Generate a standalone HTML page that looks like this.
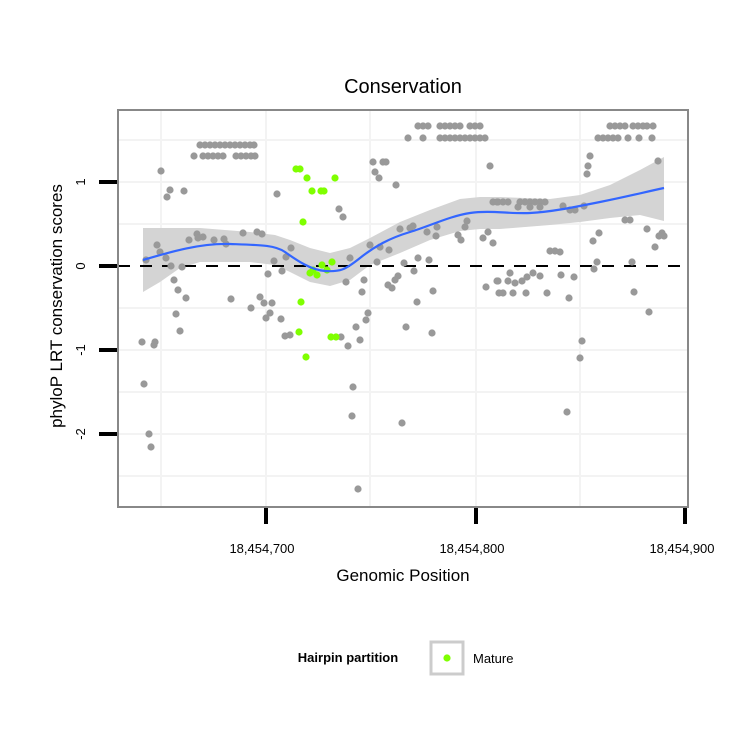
<!DOCTYPE html>
<html><head><meta charset="utf-8"><style>body{margin:0;background:#fff}svg{display:block}text{font-family:"Liberation Sans",sans-serif}</style></head><body>
<svg width="750" height="750" viewBox="0 0 750 750" xmlns="http://www.w3.org/2000/svg">
<rect width="750" height="750" fill="#fff"/>
<g stroke="#f3f3f3" stroke-width="2">
<line x1="118" y1="140" x2="688" y2="140"/><line x1="118" y1="224" x2="688" y2="224"/><line x1="118" y1="308" x2="688" y2="308"/><line x1="118" y1="392" x2="688" y2="392"/><line x1="118" y1="476" x2="688" y2="476"/>
<line x1="118" y1="182" x2="688" y2="182"/><line x1="118" y1="350" x2="688" y2="350"/><line x1="118" y1="434" x2="688" y2="434"/>
<line x1="161" y1="110" x2="161" y2="507"/><line x1="370" y1="110" x2="370" y2="507"/><line x1="580" y1="110" x2="580" y2="507"/>
<line x1="266" y1="110" x2="266" y2="507"/><line x1="476" y1="110" x2="476" y2="507"/>
</g>
<path d="M143,228 L160,228 L200,228 L250,232 L275,235 L290,240 L310,248 L330,253 L350,248 L370,238 L400,222 L430,210 L460,199 L480,197 L500,197 L550,199 L580,195 L610,185 L640,170 L664,157 L664,221 L640,215 L610,218 L580,222 L550,225 L500,229 L480,229 L460,231 L430,240 L400,253 L370,265 L350,280 L330,286 L310,282 L290,272 L275,265 L250,262 L200,262 L180,268 L160,282 L143,292 Z" fill="#d4d4d4"/>
<line x1="118" y1="266" x2="688" y2="266" stroke="#000" stroke-width="2" stroke-dasharray="12,10"/>
<g fill="#999">
<circle cx="161" cy="171" r="3.6"/><circle cx="170" cy="190" r="3.6"/><circle cx="167" cy="197" r="3.6"/><circle cx="184" cy="191" r="3.6"/>
<circle cx="200" cy="145" r="3.6"/><circle cx="205" cy="145" r="3.6"/><circle cx="210" cy="145" r="3.6"/><circle cx="215" cy="145" r="3.6"/><circle cx="220" cy="145" r="3.6"/><circle cx="225" cy="145" r="3.6"/><circle cx="230" cy="145" r="3.6"/><circle cx="235" cy="145" r="3.6"/><circle cx="240" cy="145" r="3.6"/><circle cx="245" cy="145" r="3.6"/><circle cx="250" cy="145" r="3.6"/><circle cx="254" cy="145" r="3.6"/>
<circle cx="194" cy="156" r="3.6"/><circle cx="203" cy="156" r="3.6"/><circle cx="208" cy="156" r="3.6"/><circle cx="213" cy="156" r="3.6"/><circle cx="218" cy="156" r="3.6"/><circle cx="223" cy="156" r="3.6"/><circle cx="236" cy="156" r="3.6"/><circle cx="241" cy="156" r="3.6"/><circle cx="246" cy="156" r="3.6"/><circle cx="251" cy="156" r="3.6"/><circle cx="255" cy="156" r="3.6"/>
<circle cx="277" cy="194" r="3.6"/><circle cx="157" cy="245" r="3.6"/><circle cx="160" cy="252" r="3.6"/><circle cx="166" cy="258" r="3.6"/><circle cx="146" cy="260" r="3.6"/><circle cx="171" cy="266" r="3.6"/><circle cx="182" cy="267" r="3.6"/>
<circle cx="174" cy="280" r="3.6"/><circle cx="178" cy="290" r="3.6"/><circle cx="186" cy="298" r="3.6"/><circle cx="176" cy="314" r="3.6"/><circle cx="180" cy="331" r="3.6"/>
<circle cx="142" cy="342" r="3.6"/><circle cx="154" cy="345" r="3.6"/><circle cx="155" cy="342" r="3.6"/><circle cx="144" cy="384" r="3.6"/><circle cx="149" cy="434" r="3.6"/><circle cx="151" cy="447" r="3.6"/>
<circle cx="189" cy="240" r="3.6"/><circle cx="197" cy="234" r="3.6"/><circle cx="198" cy="238" r="3.6"/><circle cx="203" cy="237" r="3.6"/><circle cx="214" cy="240" r="3.6"/><circle cx="224" cy="239" r="3.6"/><circle cx="226" cy="244" r="3.6"/><circle cx="243" cy="233" r="3.6"/><circle cx="257" cy="232" r="3.6"/><circle cx="262" cy="234" r="3.6"/>
<circle cx="274" cy="261" r="3.6"/><circle cx="268" cy="274" r="3.6"/><circle cx="282" cy="271" r="3.6"/><circle cx="286" cy="257" r="3.6"/><circle cx="291" cy="248" r="3.6"/>
<circle cx="231" cy="299" r="3.6"/><circle cx="260" cy="297" r="3.6"/><circle cx="264" cy="303" r="3.6"/><circle cx="272" cy="303" r="3.6"/><circle cx="251" cy="308" r="3.6"/><circle cx="270" cy="313" r="3.6"/><circle cx="266" cy="318" r="3.6"/><circle cx="281" cy="319" r="3.6"/><circle cx="285" cy="336" r="3.6"/><circle cx="290" cy="335" r="3.6"/>
<circle cx="418" cy="126" r="3.6"/><circle cx="423" cy="126" r="3.6"/><circle cx="428" cy="126" r="3.6"/><circle cx="440" cy="126" r="3.6"/><circle cx="445" cy="126" r="3.6"/><circle cx="450" cy="126" r="3.6"/><circle cx="455" cy="126" r="3.6"/><circle cx="460" cy="126" r="3.6"/><circle cx="470" cy="126" r="3.6"/><circle cx="475" cy="126" r="3.6"/><circle cx="480" cy="126" r="3.6"/>
<circle cx="408" cy="138" r="3.6"/><circle cx="423" cy="138" r="3.6"/><circle cx="440" cy="138" r="3.6"/><circle cx="445" cy="138" r="3.6"/><circle cx="450" cy="138" r="3.6"/><circle cx="455" cy="138" r="3.6"/><circle cx="460" cy="138" r="3.6"/><circle cx="465" cy="138" r="3.6"/><circle cx="470" cy="138" r="3.6"/><circle cx="475" cy="138" r="3.6"/><circle cx="480" cy="138" r="3.6"/><circle cx="485" cy="138" r="3.6"/>
<circle cx="373" cy="162" r="3.6"/><circle cx="383" cy="162" r="3.6"/><circle cx="386" cy="162" r="3.6"/><circle cx="375" cy="172" r="3.6"/><circle cx="379" cy="178" r="3.6"/><circle cx="396" cy="185" r="3.6"/><circle cx="490" cy="166" r="3.6"/>
<circle cx="339" cy="209" r="3.6"/><circle cx="343" cy="217" r="3.6"/>
<circle cx="400" cy="229" r="3.6"/><circle cx="410" cy="228" r="3.6"/><circle cx="413" cy="226" r="3.6"/><circle cx="427" cy="232" r="3.6"/><circle cx="436" cy="236" r="3.6"/><circle cx="437" cy="227" r="3.6"/><circle cx="458" cy="235" r="3.6"/><circle cx="461" cy="240" r="3.6"/><circle cx="465" cy="227" r="3.6"/><circle cx="467" cy="221" r="3.6"/><circle cx="488" cy="232" r="3.6"/><circle cx="483" cy="238" r="3.6"/><circle cx="493" cy="243" r="3.6"/><circle cx="497" cy="202" r="3.6"/>
<circle cx="370" cy="245" r="3.6"/><circle cx="380" cy="247" r="3.6"/><circle cx="389" cy="250" r="3.6"/><circle cx="350" cy="258" r="3.6"/><circle cx="377" cy="262" r="3.6"/><circle cx="418" cy="258" r="3.6"/><circle cx="429" cy="260" r="3.6"/><circle cx="404" cy="263" r="3.6"/>
<circle cx="414" cy="271" r="3.6"/><circle cx="398" cy="276" r="3.6"/><circle cx="395" cy="280" r="3.6"/><circle cx="388" cy="285" r="3.6"/><circle cx="392" cy="288" r="3.6"/><circle cx="346" cy="282" r="3.6"/><circle cx="364" cy="280" r="3.6"/><circle cx="362" cy="292" r="3.6"/><circle cx="433" cy="291" r="3.6"/><circle cx="417" cy="302" r="3.6"/><circle cx="486" cy="287" r="3.6"/><circle cx="497" cy="281" r="3.6"/><circle cx="499" cy="293" r="3.6"/>
<circle cx="368" cy="313" r="3.6"/><circle cx="366" cy="320" r="3.6"/><circle cx="356" cy="327" r="3.6"/><circle cx="406" cy="327" r="3.6"/><circle cx="432" cy="333" r="3.6"/><circle cx="341" cy="337" r="3.6"/><circle cx="348" cy="346" r="3.6"/><circle cx="360" cy="340" r="3.6"/>
<circle cx="353" cy="387" r="3.6"/><circle cx="352" cy="416" r="3.6"/><circle cx="402" cy="423" r="3.6"/><circle cx="358" cy="489" r="3.6"/>
<circle cx="610" cy="126" r="3.6"/><circle cx="615" cy="126" r="3.6"/><circle cx="620" cy="126" r="3.6"/><circle cx="625" cy="126" r="3.6"/><circle cx="633" cy="126" r="3.6"/><circle cx="638" cy="126" r="3.6"/><circle cx="643" cy="126" r="3.6"/><circle cx="647" cy="126" r="3.6"/><circle cx="653" cy="126" r="3.6"/>
<circle cx="598" cy="138" r="3.6"/><circle cx="603" cy="138" r="3.6"/><circle cx="608" cy="138" r="3.6"/><circle cx="613" cy="138" r="3.6"/><circle cx="618" cy="138" r="3.6"/><circle cx="628" cy="138" r="3.6"/><circle cx="639" cy="138" r="3.6"/><circle cx="652" cy="138" r="3.6"/>
<circle cx="590" cy="156" r="3.6"/><circle cx="588" cy="166" r="3.6"/><circle cx="587" cy="174" r="3.6"/><circle cx="658" cy="161" r="3.6"/>
<circle cx="493" cy="202" r="3.6"/><circle cx="498" cy="202" r="3.6"/><circle cx="503" cy="202" r="3.6"/><circle cx="508" cy="202" r="3.6"/><circle cx="520" cy="202" r="3.6"/><circle cx="525" cy="202" r="3.6"/><circle cx="530" cy="202" r="3.6"/><circle cx="535" cy="202" r="3.6"/><circle cx="540" cy="202" r="3.6"/><circle cx="545" cy="202" r="3.6"/>
<circle cx="518" cy="207" r="3.6"/><circle cx="530" cy="207" r="3.6"/><circle cx="540" cy="207" r="3.6"/><circle cx="563" cy="206" r="3.6"/><circle cx="575" cy="210" r="3.6"/><circle cx="570" cy="210" r="3.6"/><circle cx="584" cy="206" r="3.6"/>
<circle cx="625" cy="220" r="3.6"/><circle cx="630" cy="220" r="3.6"/><circle cx="647" cy="229" r="3.6"/><circle cx="599" cy="233" r="3.6"/><circle cx="593" cy="241" r="3.6"/><circle cx="662" cy="233" r="3.6"/><circle cx="659" cy="236" r="3.6"/><circle cx="664" cy="236" r="3.6"/><circle cx="655" cy="247" r="3.6"/>
<circle cx="550" cy="251" r="3.6"/><circle cx="555" cy="251" r="3.6"/><circle cx="560" cy="252" r="3.6"/><circle cx="597" cy="262" r="3.6"/><circle cx="632" cy="262" r="3.6"/><circle cx="594" cy="269" r="3.6"/>
<circle cx="510" cy="273" r="3.6"/><circle cx="498" cy="281" r="3.6"/><circle cx="508" cy="281" r="3.6"/><circle cx="515" cy="283" r="3.6"/><circle cx="522" cy="281" r="3.6"/><circle cx="527" cy="277" r="3.6"/><circle cx="533" cy="273" r="3.6"/><circle cx="540" cy="276" r="3.6"/><circle cx="561" cy="275" r="3.6"/><circle cx="574" cy="277" r="3.6"/>
<circle cx="503" cy="293" r="3.6"/><circle cx="513" cy="293" r="3.6"/><circle cx="526" cy="293" r="3.6"/><circle cx="547" cy="293" r="3.6"/><circle cx="569" cy="298" r="3.6"/><circle cx="634" cy="292" r="3.6"/><circle cx="649" cy="312" r="3.6"/>
<circle cx="582" cy="341" r="3.6"/><circle cx="580" cy="358" r="3.6"/><circle cx="567" cy="412" r="3.6"/>
</g>
<g fill="#7fff00">
<circle cx="296" cy="169" r="3.6"/><circle cx="300" cy="169" r="3.6"/><circle cx="307" cy="178" r="3.6"/><circle cx="335" cy="178" r="3.6"/><circle cx="312" cy="191" r="3.6"/><circle cx="321" cy="191" r="3.6"/><circle cx="324" cy="191" r="3.6"/><circle cx="303" cy="222" r="3.6"/>
<circle cx="313" cy="270" r="3.6"/><circle cx="317" cy="275" r="3.6"/><circle cx="322" cy="265" r="3.6"/><circle cx="327" cy="270" r="3.6"/><circle cx="332" cy="262" r="3.6"/><circle cx="310" cy="273" r="3.6"/>
<circle cx="301" cy="302" r="3.6"/><circle cx="299" cy="332" r="3.6"/><circle cx="306" cy="357" r="3.6"/><circle cx="331" cy="337" r="3.6"/><circle cx="336" cy="337" r="3.6"/>
</g>
<path d="M143,260 C170,252 200,243 230,244 S275,245 285,252 S310,270 325,271 S345,270 360,258 S390,238 410,232 S450,216 470,213 S510,214 530,213 S570,208 600,202 S645,192 664,188" fill="none" stroke="#3366ff" stroke-width="2.2"/>
<rect x="118" y="110" width="570" height="397" fill="none" stroke="#888" stroke-width="2"/>
<g stroke="#000" stroke-width="4">
<line x1="99" y1="182" x2="117" y2="182"/><line x1="99" y1="266" x2="117" y2="266"/><line x1="99" y1="350" x2="117" y2="350"/><line x1="99" y1="434" x2="117" y2="434"/>
<line x1="266" y1="508" x2="266" y2="524"/><line x1="476" y1="508" x2="476" y2="524"/><line x1="685" y1="508" x2="685" y2="524"/>
</g>
<g font-size="13" fill="#000" text-anchor="middle">
<text transform="translate(85,182) rotate(-90)">1</text>
<text transform="translate(85,266) rotate(-90)">0</text>
<text transform="translate(85,350) rotate(-90)">-1</text>
<text transform="translate(85,434) rotate(-90)">-2</text>
<text x="262" y="553">18,454,700</text><text x="472" y="553">18,454,800</text><text x="682" y="553">18,454,900</text>
</g>
<text x="403" y="93" font-size="20" text-anchor="middle">Conservation</text>
<text x="403" y="581" font-size="17" text-anchor="middle">Genomic Position</text>
<text transform="translate(62,306) rotate(-90)" font-size="17" text-anchor="middle">phyloP LRT conservation scores</text>
<text x="348" y="662" font-size="13" font-weight="bold" text-anchor="middle">Hairpin partition</text>
<rect x="431" y="642" width="32" height="32" fill="#fff" stroke="#ccc" stroke-width="3"/>
<circle cx="447" cy="658" r="3.6" fill="#7fff00"/>
<text x="473" y="663" font-size="13">Mature</text>
</svg>
</body></html>
